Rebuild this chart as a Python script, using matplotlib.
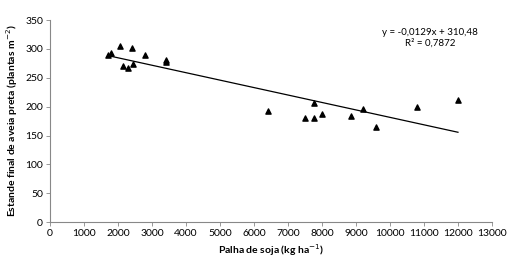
import matplotlib
matplotlib.use('Agg')
import matplotlib.pyplot as plt
import numpy as np

plt.rcParams['font.family'] = ['Lato', 'DejaVu Sans']

# palha de soja (kg/ha) e estande final (plantas/m2)
palha = [1700, 1800, 2050, 2150, 2300, 2400, 2450, 2800, 3400, 3400,
         6420, 7510, 7760, 7760, 8000, 8850, 9210, 9580, 10800, 12000]
estande = [290, 293, 305, 271, 267, 302, 274, 290, 281, 277,
           192, 180, 180, 207, 188, 184, 196, 164, 200, 212]

# linha de tendencia
coef_a = -0.0129
coef_b = 310.48
xticks = np.arange(0, 13001, 1000)
yticks = np.arange(0, 351, 50)

fig = plt.figure(figsize=(5.13, 2.61), dpi=100)
ax = fig.add_axes([0.0975, 0.149, 0.8615, 0.774])

ax.scatter(palha, estande, marker='^', s=14, color='black', zorder=3)
xl = np.array([min(palha), max(palha)])
ax.plot(xl, coef_a * xl + coef_b, color='black', linewidth=0.9)

ax.set_xlim(0, 13000)
ax.set_ylim(0, 350)
ax.set_xticks(xticks)
ax.set_yticks(yticks)
ax.tick_params(labelsize=7.5, length=3, width=0.6, color='#888888', pad=2)
for s in ['top', 'right']:
    ax.spines[s].set_visible(False)
for s in ['left', 'bottom']:
    ax.spines[s].set_color('#888888')
    ax.spines[s].set_linewidth(0.8)

ax.set_xlabel('Palha de soja (kg ha$^{-1}$)', fontsize=7.5, fontweight='bold', labelpad=3)
ax.set_ylabel('Estande final de aveia preta (plantas m$^{-2}$)', fontsize=7.5,
              fontweight='bold', labelpad=4)

ax.text(11180, 319, 'y = -0,0129x + 310,48\nR² = 0,7872', fontsize=7, ha='center',
        va='center', linespacing=1.2)

fig.savefig('out.png', dpi=100, facecolor='white')
